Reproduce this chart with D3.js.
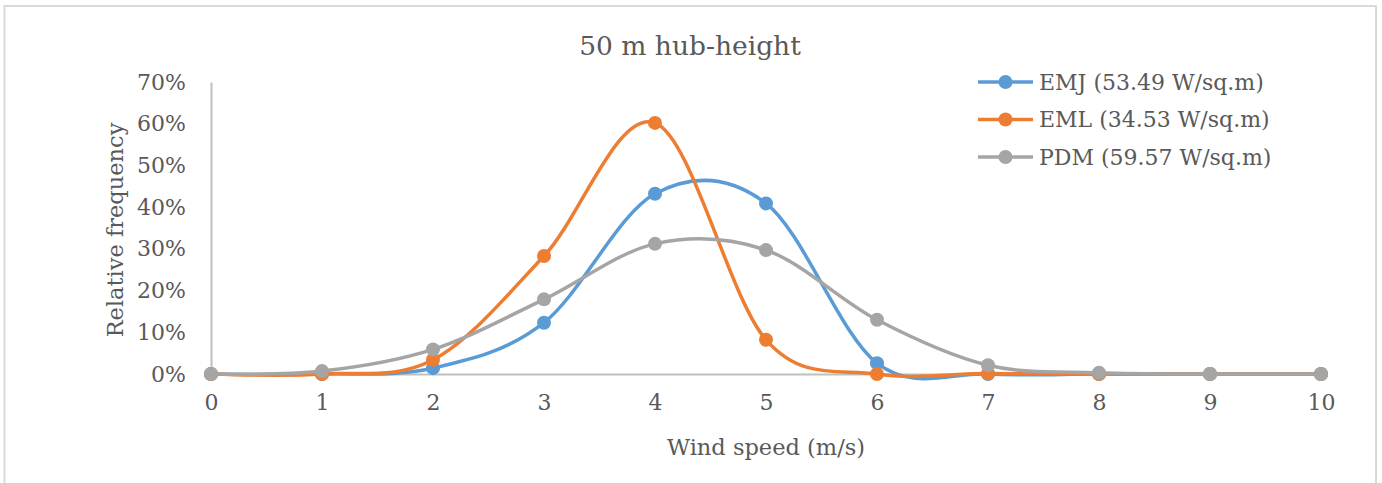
<!DOCTYPE html>
<html>
<head>
<meta charset="utf-8">
<script src="https://cdn.jsdelivr.net/npm/d3@7"></script>
<style>
  body { margin: 0; background: #fff; }
  text { font-family: "DejaVu Serif", serif; fill: #595959; }
</style>
</head>
<body>
<div id="container"></div>
<script>
let w = 1382;
let h = 483;

// data
let windSpeeds = [0, 1, 2, 3, 4, 5, 6, 7, 8, 9, 10];
let emj = [0, 0, 0.014, 0.123, 0.432, 0.409, 0.026, 0, 0, 0, 0];
let eml = [0, 0, 0.034, 0.283, 0.602, 0.082, 0, 0.001, 0, 0, 0];
let pdm = [0, 0.007, 0.059, 0.179, 0.312, 0.297, 0.130, 0.021, 0.003, 0, 0];
let seriesNames = ["EMJ (53.49 W/sq.m)", "EML (34.53 W/sq.m)", "PDM (59.57 W/sq.m)"];
let seriesColors = ["#5B9BD5", "#ED7D31", "#A5A5A5"];
let yTicks = [0, 0.1, 0.2, 0.3, 0.4, 0.5, 0.6, 0.7];

let viz = d3.select("#container")
  .append("svg")
    .attr("width", w)
    .attr("height", h)
;

// chart border
viz.append("rect")
  .attr("x", 4.5)
  .attr("y", 6)
  .attr("width", 1371.5)
  .attr("height", 490)
  .attr("fill", "none")
  .attr("stroke", "#d9d9d9")
  .attr("stroke-width", 2)
;

let xScale = d3.scaleLinear().domain([0, 10]).range([211, 1321]);
let yScale = d3.scaleLinear().domain([0, 0.7]).range([374, 82]);

// title
viz.append("text")
  .text("50 m hub-height")
  .attr("x", 690)
  .attr("y", 55)
  .attr("text-anchor", "middle")
  .attr("font-size", "26.5px")
;

// y axis
let yAxis = d3.axisLeft(yScale)
  .tickValues(yTicks)
  .tickFormat(d3.format(".0%"))
  .tickSize(0)
  .tickPadding(25);
let yAxisGroup = viz.append("g").attr("class", "yaxis")
  .attr("transform", "translate(" + xScale(0) + ", 0)")
  .call(yAxis);
yAxisGroup.selectAll("text").attr("font-size", "22px").attr("font-family", null).attr("fill", "#595959");
yAxisGroup.select(".domain").attr("stroke", "#bfbfbf").attr("stroke-width", 2);

// x axis
let xAxis = d3.axisBottom(xScale)
  .tickValues(windSpeeds)
  .tickFormat(d3.format("d"))
  .tickSize(0)
  .tickPadding(20);
let xAxisGroup = viz.append("g").attr("class", "xaxis")
  .attr("transform", "translate(0, " + yScale(0) + ")")
  .call(xAxis);
xAxisGroup.selectAll("text").attr("font-size", "22px").attr("font-family", null).attr("fill", "#595959");
xAxisGroup.select(".domain").attr("stroke", "#bfbfbf").attr("stroke-width", 2);

// axis titles
viz.append("text")
  .text("Wind speed (m/s)")
  .attr("x", 766)
  .attr("y", 455)
  .attr("text-anchor", "middle")
  .attr("font-size", "22.5px")
;
viz.append("text")
  .text("Relative frequency")
  .attr("transform", "translate(123, 230) rotate(-90)")
  .attr("text-anchor", "middle")
  .attr("font-size", "22.5px")
;

// series (smoothed lines like Excel)
let allSeries = [emj, eml, pdm];
let line = d3.line()
  .x(function(d, i){ return xScale(windSpeeds[i]); })
  .y(function(d){ return yScale(d); })
  .curve(d3.curveCardinal.tension(0));

let seriesGroups = viz.append("g").attr("class", "series")
  .selectAll("g")
  .data(allSeries)
  .enter()
  .append("g");

seriesGroups.append("path")
  .attr("d", function(d){ return line(d); })
  .attr("fill", "none")
  .attr("stroke", function(d, i){ return seriesColors[i]; })
  .attr("stroke-width", 3.5)
;

seriesGroups.each(function(values, si){
  d3.select(this).selectAll("circle")
    .data(values)
    .enter()
    .append("circle")
      .attr("cx", function(d, i){ return xScale(windSpeeds[i]); })
      .attr("cy", function(d){ return yScale(d); })
      .attr("r", 7)
      .attr("fill", seriesColors[si])
  ;
});

// legend
let legend = viz.append("g").attr("class", "legend")
  .selectAll("g")
  .data(seriesNames)
  .enter()
  .append("g")
    .attr("transform", function(d, i){ return "translate(978, " + (82 + i * 37.5) + ")"; });

legend.append("line")
  .attr("x1", 0).attr("x2", 55)
  .attr("stroke", function(d, i){ return seriesColors[i]; })
  .attr("stroke-width", 3.5);
legend.append("circle")
  .attr("cx", 27.5)
  .attr("r", 7)
  .attr("fill", function(d, i){ return seriesColors[i]; });
legend.append("text")
  .text(function(d){ return d; })
  .attr("x", 61)
  .attr("dy", "0.35em")
  .attr("font-size", "22px");
</script>
</body>
</html>
